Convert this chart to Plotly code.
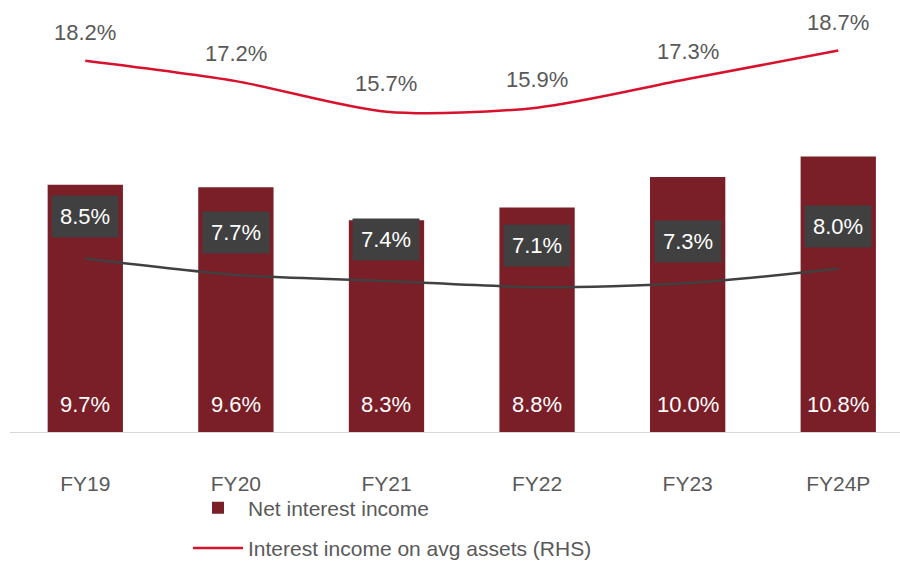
import plotly.graph_objects as go

years = ["FY19", "FY20", "FY21", "FY22", "FY23", "FY24P"]
net_interest_income = [9.7, 9.6, 8.3, 8.8, 10.0, 10.8]
interest_income_avg_assets = [18.2, 17.2, 15.7, 15.9, 17.3, 18.7]
margin_line = [8.5, 7.7, 7.4, 7.1, 7.3, 8.0]

BAR = "#7a1e28"
RED = "#d8112c"
DARK = "#404040"
GREY = "#595959"
FONT = "Liberation Sans, Arial, sans-serif"
FS = 22

fig = go.Figure()

fig.add_trace(go.Bar(
    x=years, y=net_interest_income, name="Net interest income",
    marker=dict(color=BAR, line=dict(width=0)), width=0.5,
    legendgroup="a",
))

fig.add_trace(go.Scatter(
    x=years, y=interest_income_avg_assets, yaxis="y2", mode="lines",
    name="Interest income on avg assets (RHS)",
    line=dict(color=RED, width=2.5, shape="spline", smoothing=0.8),
    legendgroup="b",
))

fig.add_trace(go.Scatter(
    x=years, y=margin_line, yaxis="y2", mode="lines", showlegend=False,
    line=dict(color=DARK, width=2.5, shape="spline", smoothing=0.8),
))

# value labels at the foot of each bar
for x, v in zip(years, net_interest_income):
    fig.add_annotation(x=x, y=0, text=f"{v:.1f}%", showarrow=False, yshift=28,
                       font=dict(color="white", size=FS, family=FONT))

# labels above red line
for x, v in zip(years, interest_income_avg_assets):
    fig.add_annotation(x=x, y=v, yref="y2", text=f"{v:.1f}%", showarrow=False,
                       yshift=28, font=dict(color=GREY, size=FS, family=FONT))

# boxed labels for the dark line
for x, v in zip(years, margin_line):
    fig.add_annotation(x=x, y=v, yref="y2", text=f"{v:.1f}%", showarrow=False,
                       yshift=42, bgcolor=DARK, borderpad=8,
                       font=dict(color="white", size=FS, family=FONT))

fig.update_layout(
    width=900, height=565,
    margin=dict(l=10, r=0, t=24, b=133, autoexpand=False),
    plot_bgcolor="white", paper_bgcolor="white",
    font=dict(family=FONT, color=GREY, size=FS),
    xaxis=dict(range=[-0.5, 5.41], showline=True, linecolor="#d9d9d9", linewidth=1,
               ticks="", ticklabelstandoff=33, tickfont=dict(size=21, color=GREY),
               automargin=False),
    yaxis=dict(range=[0, 16], visible=False, showgrid=False),
    yaxis2=dict(range=[0, 20], overlaying="y", visible=False, showgrid=False),
    showlegend=True,
    legend=dict(x=0.2, y=0.137, yref="container", xanchor="left", yanchor="top",
                orientation="v", tracegroupgap=10, itemwidth=50,
                font=dict(size=21, color=GREY), bgcolor="rgba(0,0,0,0)"),
)

fig.write_html("out.html", config={"displayModeBar": False},
               post_script="document.body.style.margin='0';")
